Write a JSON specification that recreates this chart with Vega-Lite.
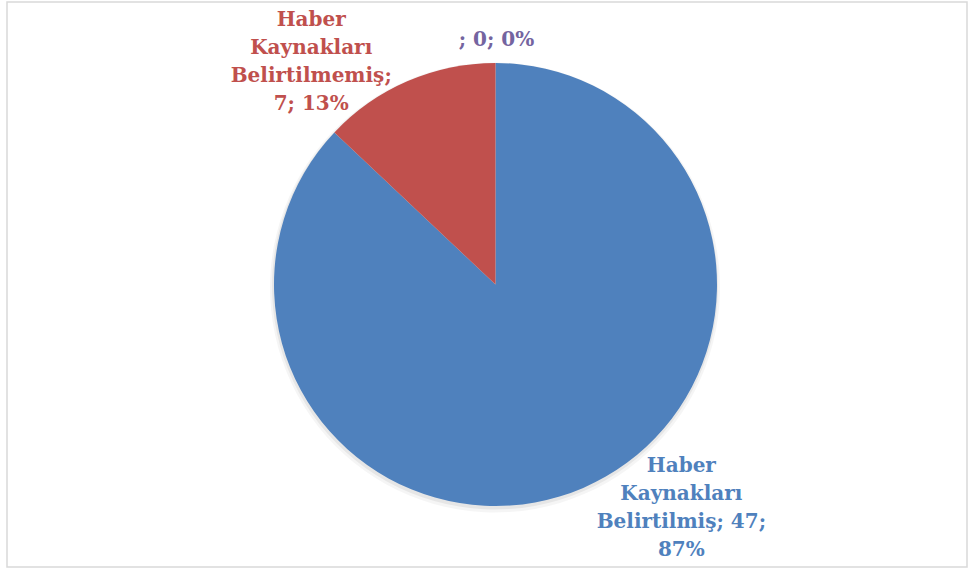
{
  "$schema": "https://vega.github.io/schema/vega-lite/v6.json",
  "width": 960,
  "height": 565,
  "autosize": {"type": "none"},
  "padding": {"left": 7, "top": 2, "right": 5, "bottom": 4},
  "background": "white",
  "view": {"stroke": "#d9d9d9", "strokeWidth": 1.5},
  "data": {
    "values": [
      {"kategori": "Haber Kaynakları Belirtilmiş", "sayi": 47, "oran": "87%", "sira": 1},
      {"kategori": "Haber Kaynakları Belirtilmemiş", "sayi": 7, "oran": "13%", "sira": 2},
      {"kategori": "", "sayi": 0, "oran": "0%", "sira": 3}
    ]
  },
  "layer": [
    {
      "mark": {"type": "arc", "radius": 225, "x": {"expr": "width/2+8"}, "y": {"expr": "height/2+3"}, "color": "#000000", "opacity": 0.04},
      "encoding": {"theta": {"field": "sayi", "type": "quantitative", "stack": true}, "order": {"field": "sira"}}
    },
    {
      "mark": {"type": "arc", "radius": 223, "x": {"expr": "width/2+8"}, "y": {"expr": "height/2+2"}, "color": "#000000", "opacity": 0.06},
      "encoding": {"theta": {"field": "sayi", "type": "quantitative", "stack": true}, "order": {"field": "sira"}}
    },
    {
      "mark": {"type": "arc", "radius": 221.5, "x": {"expr": "width/2+8.5"}, "y": {"expr": "height/2"}},
      "encoding": {
        "theta": {"field": "sayi", "type": "quantitative", "stack": true},
        "order": {"field": "sira"},
        "color": {
          "field": "kategori",
          "type": "nominal",
          "scale": {"domain": ["Haber Kaynakları Belirtilmiş", "Haber Kaynakları Belirtilmemiş", ""], "range": ["#4F81BD", "#C0504D", "#8064A2"]},
          "legend": null
        }
      }
    },
    {
      "transform": [{"filter": "datum.sira == 1"}, {"calculate": "['Haber', 'Kaynakları', 'Belirtilmiş; ' + datum.sayi + ';', datum.oran]", "as": "etiket"}],
      "mark": {"type": "text", "x": {"expr": "width/2+8.5"}, "y": {"expr": "height/2"}, "theta": 2.3453, "radius": 260, "align": "center", "baseline": "middle", "font": "DejaVu Serif", "fontWeight": "bold", "fontSize": 20, "lineHeight": 28, "color": "#4F81BD"},
      "encoding": {"text": {"field": "etiket"}}
    },
    {
      "transform": [{"filter": "datum.sira == 2"}, {"calculate": "['Haber', 'Kaynakları', 'Belirtilmemiş;', datum.sayi + '; ' + datum.oran]", "as": "etiket"}],
      "mark": {"type": "text", "x": {"expr": "width/2+8.5"}, "y": {"expr": "height/2"}, "theta": 5.6739, "radius": 322, "align": "center", "baseline": "middle", "font": "DejaVu Serif", "fontWeight": "bold", "fontSize": 20, "lineHeight": 28, "color": "#C0504D"},
      "encoding": {"text": {"field": "etiket"}}
    },
    {
      "transform": [{"filter": "datum.sira == 3"}, {"calculate": "datum.kategori + '; ' + datum.sayi + '; ' + datum.oran", "as": "etiket"}],
      "mark": {"type": "text", "x": {"expr": "width/2+8.5"}, "y": {"expr": "height/2"}, "theta": 0.004, "radius": 245, "align": "center", "baseline": "middle", "font": "DejaVu Serif", "fontWeight": "bold", "fontSize": 20, "color": "#7464A0"},
      "encoding": {"text": {"field": "etiket"}}
    }
  ]
}
